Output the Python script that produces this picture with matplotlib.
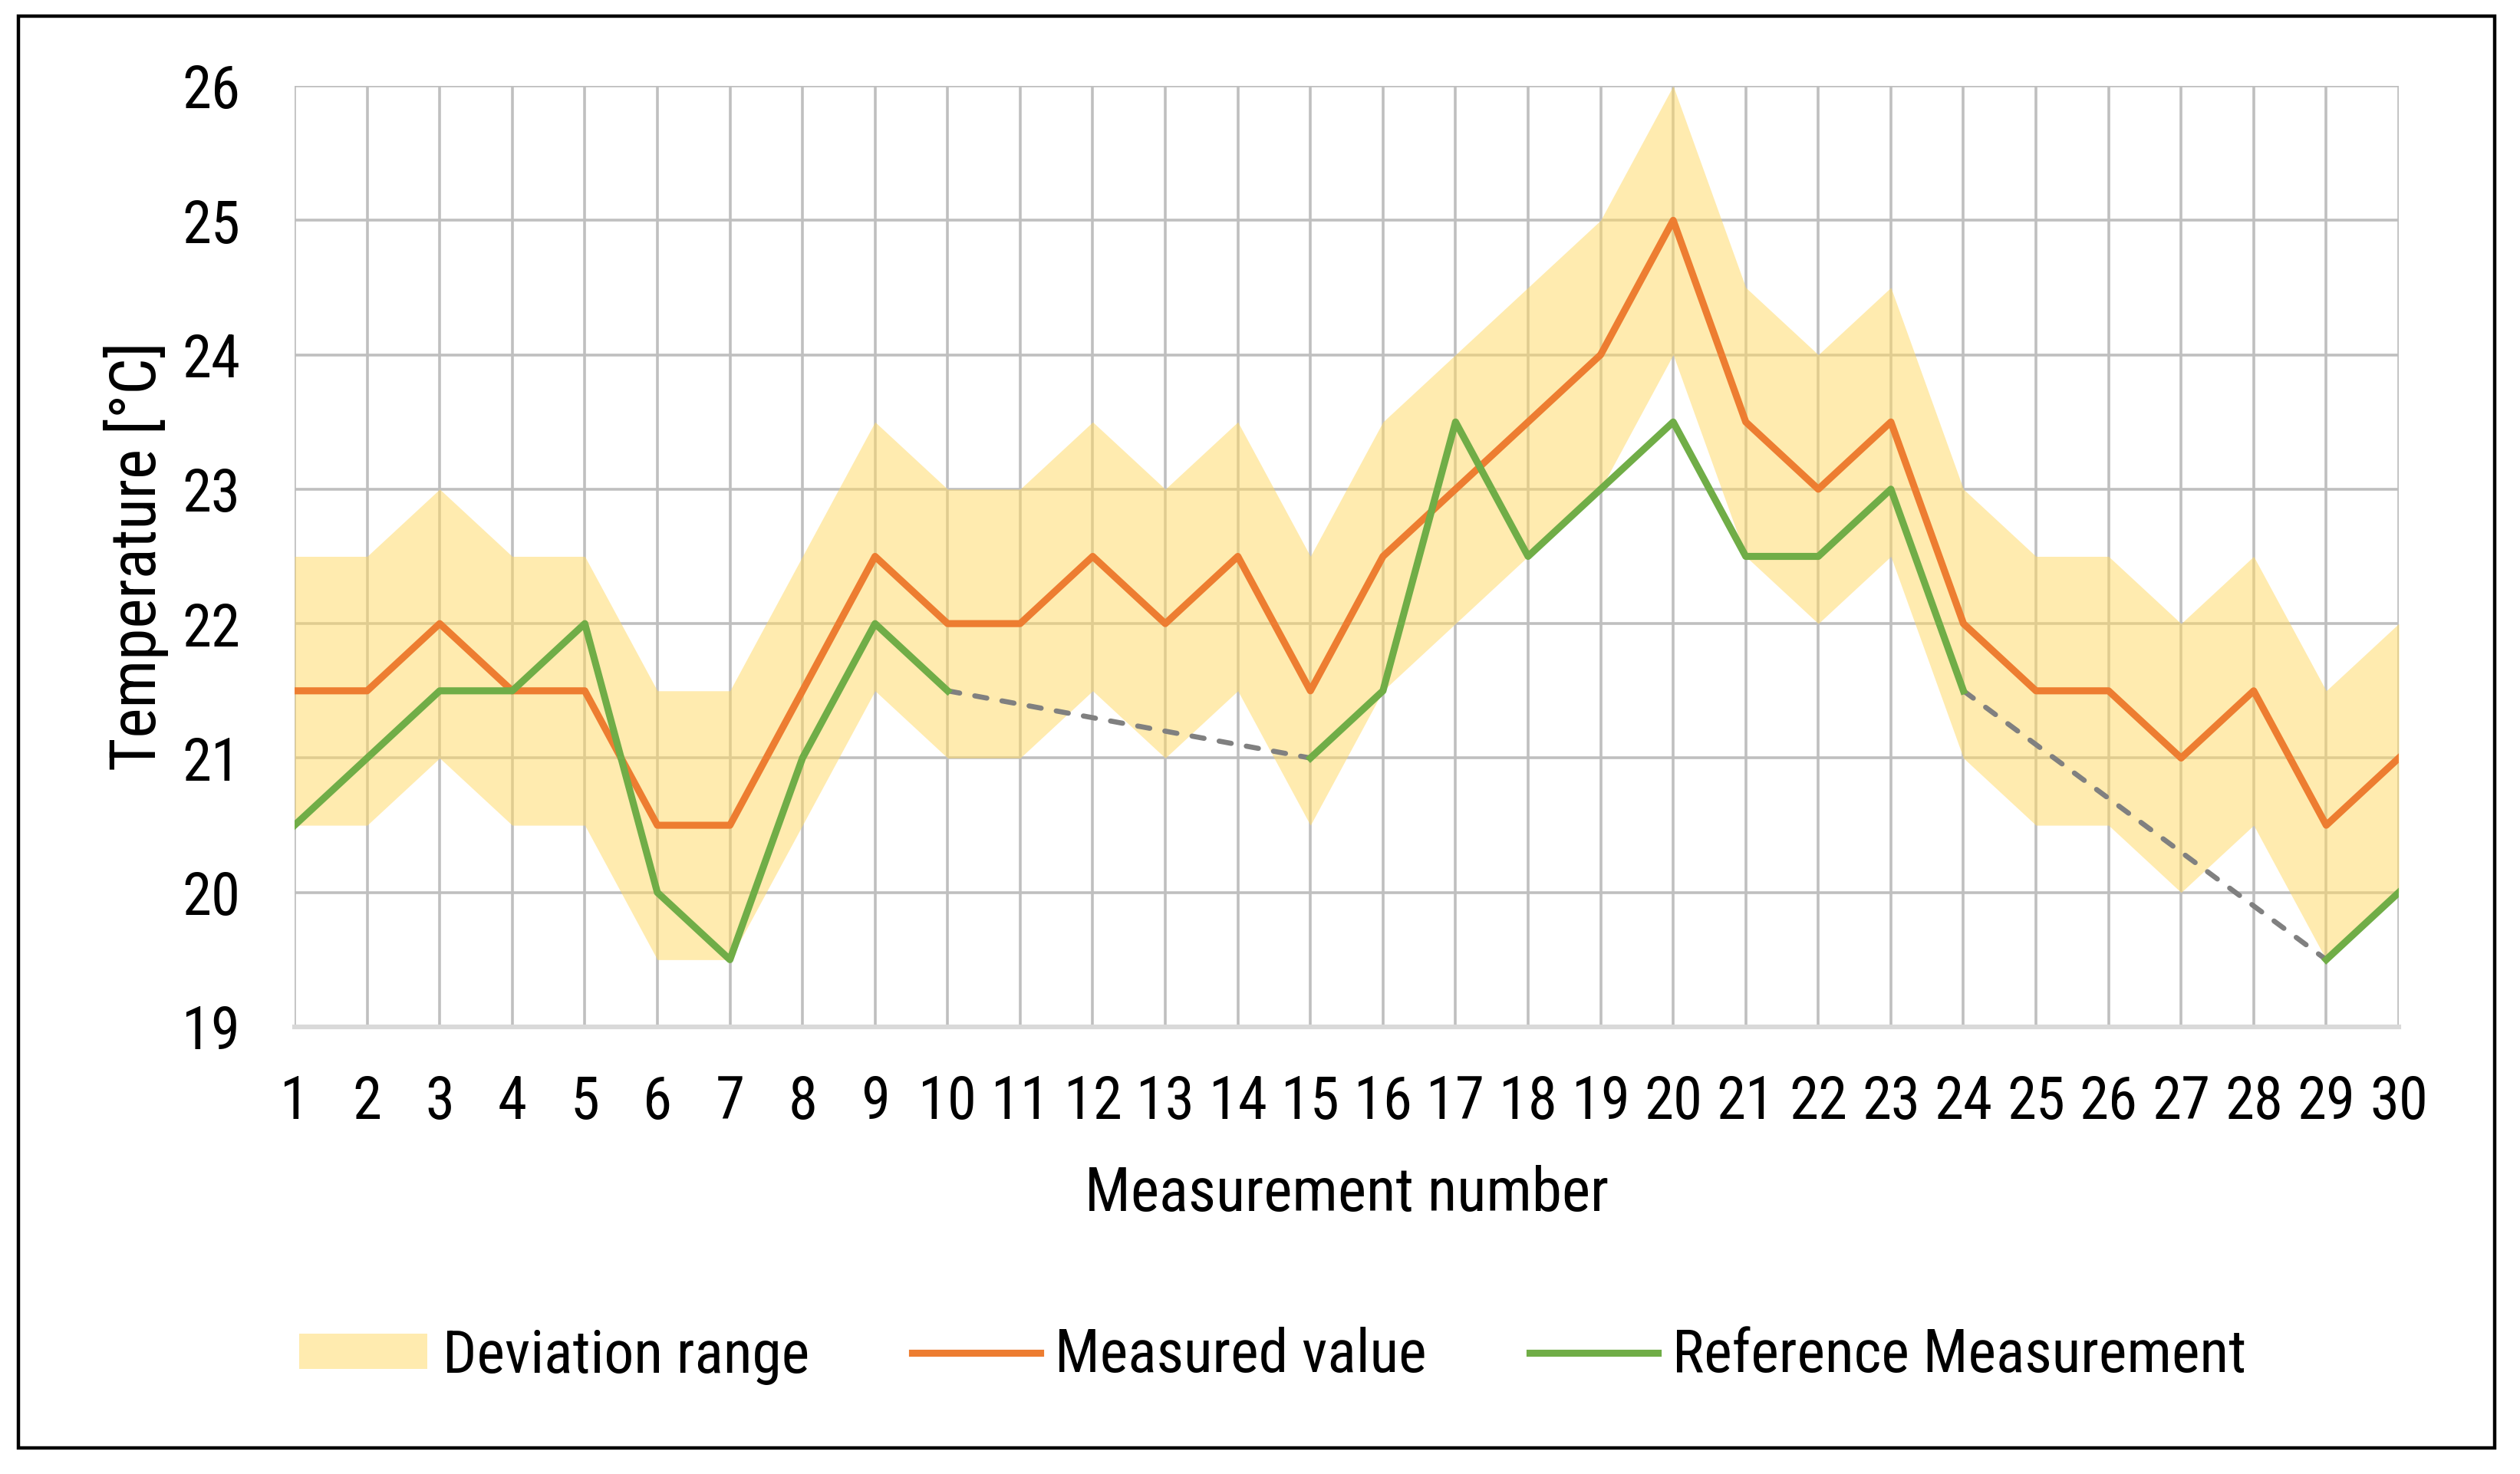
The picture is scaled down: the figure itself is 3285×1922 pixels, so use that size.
import numpy as np
import matplotlib
matplotlib.use("Agg")
import matplotlib.pyplot as plt
import matplotlib.font_manager as fm
from matplotlib.patches import Rectangle

# ---------------- data ----------------
measurement = list(range(1, 31))
measured = [21.5, 21.5, 22.0, 21.5, 21.5, 20.5, 20.5, 21.5, 22.5, 22.0,
            22.0, 22.5, 22.0, 22.5, 21.5, 22.5, 23.0, 23.5, 24.0, 25.0,
            23.5, 23.0, 23.5, 22.0, 21.5, 21.5, 21.0, 21.5, 20.5, 21.0]
dev_upper = [22.5, 22.5, 23.0, 22.5, 22.5, 21.5, 21.5, 22.5, 23.5, 23.0,
             23.0, 23.5, 23.0, 23.5, 22.5, 23.5, 24.0, 24.5, 25.0, 26.0,
             24.5, 24.0, 24.5, 23.0, 22.5, 22.5, 22.0, 22.5, 21.5, 22.0]
dev_lower = [20.5, 20.5, 21.0, 20.5, 20.5, 19.5, 19.5, 20.5, 21.5, 21.0,
             21.0, 21.5, 21.0, 21.5, 20.5, 21.5, 22.0, 22.5, 23.0, 24.0,
             22.5, 22.0, 22.5, 21.0, 20.5, 20.5, 20.0, 20.5, 19.5, 20.0]
reference = [20.5, 21.0, 21.5, 21.5, 22.0, 20.0, 19.5, 21.0, 22.0, 21.5,
             None, None, None, None, 21.0, 21.5, 23.5, 22.5, 23.0, 23.5,
             22.5, 22.5, 23.0, 21.5, None, None, None, None, 19.5, 20.0]
y_ticks = [19, 20, 21, 22, 23, 24, 25, 26]
series_labels = ["Deviation range", "Measured value", "Reference Measurement"]
x_label = "Measurement number"
y_label = "Temperature [°C]"

# ---------------- fonts ----------------
names = {f.name for f in fm.fontManager.ttflist}
fam = []
for cand in ["Liberation Sans Narrow", "Arial Narrow", "Roboto Condensed",
             "Archivo Narrow", "PT Sans Narrow", "Liberation Sans"]:
    if cand in names:
        fam.append(cand)
        break
fam.append("DejaVu Sans")
plt.rcParams["font.family"] = fam

W, H = 3285, 1922
DPI = 200
fig = plt.figure(figsize=(W / DPI, H / DPI), dpi=DPI)
fig.patch.set_facecolor("white")

ax_l, ax_r, ax_t, ax_b = 384, 3127, 112, 1339
ax = fig.add_axes([ax_l / W, 1 - ax_b / H, (ax_r - ax_l) / W, (ax_b - ax_t) / H])

x = np.array(measurement, dtype=float)
ref = np.array([np.nan if v is None else v for v in reference], dtype=float)

ORANGE = "#ED7D31"
GREEN = "#70AD47"
FILL = "#FFD966"
LW = 3.3

fill = ax.fill_between(x, dev_lower, dev_upper, color=FILL, alpha=0.52,
                       linewidth=0, zorder=3, label=series_labels[0])

# dashed connectors across missing reference values
idx = np.where(~np.isnan(ref))[0]
for a, b in zip(idx[:-1], idx[1:]):
    if b - a > 1:
        ax.plot([x[a], x[b]], [ref[a], ref[b]], color="#808080", lw=2.4,
                dashes=(2.4, 3.0), dash_capstyle="round", zorder=4)

l_meas, = ax.plot(x, measured, color=ORANGE, lw=LW, zorder=5,
                  solid_joinstyle="round", label=series_labels[1])
l_ref, = ax.plot(x, ref, color=GREEN, lw=LW, zorder=6,
                 solid_joinstyle="round", label=series_labels[2])

ax.set_xlim(1, 30)
ax.set_ylim(19, 26)
ax.set_xticks(measurement)
ax.set_xticklabels([str(m) for m in measurement])
ax.set_yticks(y_ticks)
ax.set_yticklabels([str(t) for t in y_ticks])
ax.grid(True, color="#BFBFBF", lw=1.3, zorder=1)
ax.set_axisbelow(True)
for s in ["top", "left", "right"]:
    ax.spines[s].set_visible(False)
ax.spines["bottom"].set_color("#D9D9D9")
ax.spines["bottom"].set_linewidth(2.2)
ax.spines["bottom"].set_zorder(2)

TICK_FS = 27.7
LAB_FS = 28.5
LEG_FS = 28.0
ax.tick_params(axis="both", length=0, labelsize=TICK_FS, colors="black")
ax.tick_params(axis="x", pad=22)
ax.tick_params(axis="y", pad=25.6)

ax.set_xlabel(x_label, fontsize=LAB_FS, labelpad=15.8)
ax.set_ylabel(y_label, fontsize=30.0, labelpad=6)

fig.legend([fill, l_meas, l_ref], series_labels, loc="center left",
           bbox_to_anchor=(390 / W, 1 - 1768 / H), ncol=3, frameon=False,
           fontsize=LEG_FS, handlelength=2.15, handleheight=0.54,
           handletextpad=0.25, columnspacing=1.72, borderpad=0,
           borderaxespad=0)

fig.add_artist(Rectangle((24 / W, 1 - 1888 / H), (3252 - 24) / W,
                         (1888 - 21) / H, transform=fig.transFigure,
                         fill=False, ec="black", lw=1.6, zorder=10))

fig.savefig("out.png", dpi=DPI, facecolor="white")
